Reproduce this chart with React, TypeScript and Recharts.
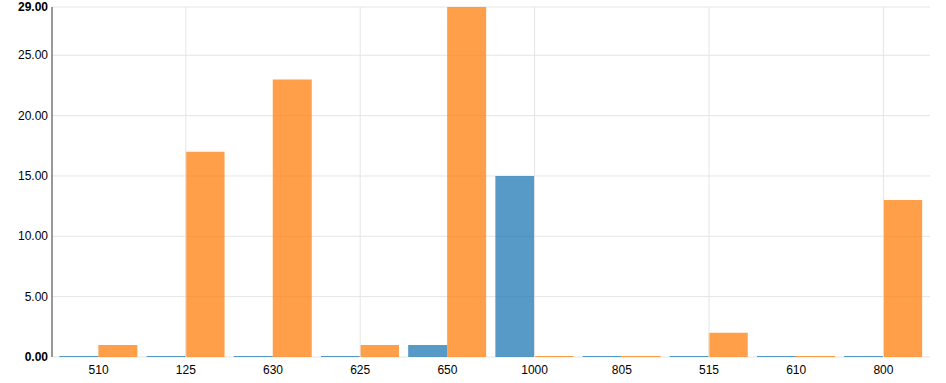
import React from "react";
import { BarChart, Bar, XAxis, YAxis, CartesianGrid, ReferenceLine } from "recharts";

const categories = ["510", "125", "630", "625", "650", "1000", "805", "515", "610", "800"];
const seriesBlue = [0, 0, 0, 0, 1, 15, 0, 0, 0, 0];
const seriesOrange = [1, 17, 23, 1, 29, 0, 0, 2, 0, 13];
const yTicks = [0, 5, 10, 15, 20, 25, 29];
const gridCategories = ["125", "625", "1000", "515", "800"];

const data = categories.map((c, i) => ({ name: c, a: seriesBlue[i], b: seriesOrange[i] }));

const FONT = "'Liberation Sans', Arial, sans-serif";

const YTick = (props: any) => {
  const { x, y, payload } = props;
  const v = payload.value;
  const bold = v === 0 || v === 29;
  return (
    <text x={x} y={y} dy={4} textAnchor="end" fontSize={12} fontFamily={FONT} fill="#000" fontWeight={bold ? "bold" : "normal"}>
      {Number(v).toFixed(2)}
    </text>
  );
};

export default function App() {
  return (
    <div style={{ position: "absolute", left: 0, top: 0, background: "#fff" }}>
      <BarChart
        width={946}
        height={383}
        data={data}
        margin={{ top: 7, right: 16, bottom: 0, left: 0 }}
        barCategoryGap="5%"
        barGap={0}
      >
        <CartesianGrid vertical={false} stroke="#e5e5e5" strokeWidth={1} />
        {gridCategories.map((c) => (
          <ReferenceLine key={c} x={c} stroke="#e5e5e5" strokeWidth={1} />
        ))}
        <XAxis
          dataKey="name"
          axisLine={false}
          tickLine={false}
          height={26}
          padding={{ left: 3, right: 3 }}
          interval={0}
          tick={{ fontSize: 12, fontFamily: FONT, fill: "#000" }}
        />
        <YAxis
          width={52}
          domain={[0, 29]}
          ticks={yTicks}
          interval={0}
          tickLine={false}
          tickSize={2}
          tickMargin={2}
          axisLine={{ stroke: "#333" }}
          tick={<YTick />}
        />
        <Bar dataKey="a" fill="#1f77b4" fillOpacity={0.75} minPointSize={1} isAnimationActive={false} />
        <Bar dataKey="b" fill="#ff7f0e" fillOpacity={0.75} minPointSize={1} isAnimationActive={false} />
      </BarChart>
    </div>
  );
}
